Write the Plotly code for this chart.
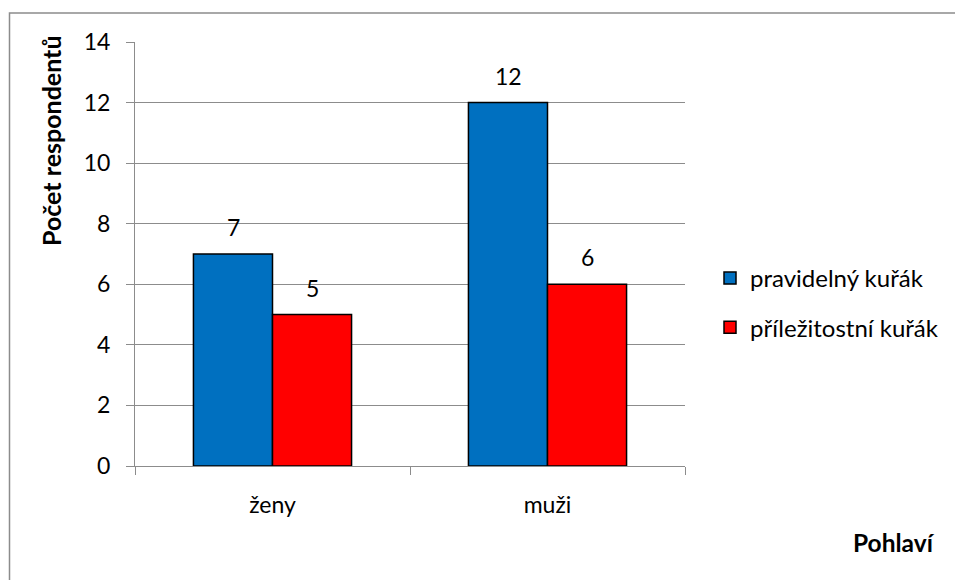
import plotly.graph_objects as go

categories = ["ženy", "muži"]
series_names = ["pravidelný kuřák", "příležitostní kuřák"]
regular = [7, 12]
occasional = [5, 6]
colors = ["#0070C0", "#FF0000"]
y_ticks = [0, 2, 4, 6, 8, 10, 12, 14]

FONT = "Lato, Open Sans, sans-serif"
FS = 23

fig = go.Figure()
series = [regular, occasional]
for i, (name, vals) in enumerate(zip(series_names, series)):
    fig.add_trace(go.Bar(
        x=categories, y=vals, name=name, legendgroup=name,
        marker=dict(color=colors[i], line=dict(color="black", width=1.5)),
        cliponaxis=False,
    ))

W, H = 955, 580
L, R, T, B = 135, 270, 42, 114
pw, ph = W - L - R, H - T - B

def px(x):
    return (x - L) / pw

def py(y):
    return (H - B - y) / ph

# data labels
offsets = [-39.5, 39.5]
for i, vals in enumerate(series):
    for c, v in zip(categories, vals):
        fig.add_annotation(x=c, y=v, text=str(v), showarrow=False,
                           xanchor="center", yanchor="middle",
                           xshift=offsets[i], yshift=27,
                           font=dict(size=FS, family=FONT, color="black"))

fig.update_layout(
    width=W, height=H,
    margin=dict(l=L, r=R, t=T, b=B, autoexpand=False),
    paper_bgcolor="white", plot_bgcolor="white",
    barmode="group", bargap=0.425, bargroupgap=0,
    font=dict(family=FONT, size=FS, color="black"),
    legend=dict(x=px(710), y=py(256), xanchor="left", yanchor="top",
                font=dict(size=24, family=FONT), tracegroupgap=15,
                traceorder="grouped", itemwidth=30),
    showlegend=True,
)
fig.update_xaxes(
    type="category", tickson="boundaries", ticks="outside", ticklen=8,
    tickcolor="#8c8c8c", showline=True, linecolor="#8c8c8c", linewidth=1,
    showgrid=False, tickfont=dict(size=FS, family=FONT),
    ticklabelstandoff=18,
)
fig.update_yaxes(
    range=[0, 14], tickvals=y_ticks, ticks="outside", ticklen=8,
    tickcolor="#8c8c8c", showline=True, linecolor="#8c8c8c", linewidth=1,
    showgrid=True, gridcolor="#8c8c8c", gridwidth=1, zeroline=False,
    tickfont=dict(size=FS, family=FONT), ticklabelstandoff=11,
)
fig.add_annotation(text="<b>Počet respondentů</b>", textangle=-90,
                   x=px(51), y=py(141), xref="paper", yref="paper",
                   xanchor="center", yanchor="middle",
                   showarrow=False, font=dict(size=25, family=FONT))
fig.add_annotation(text="<b>Pohlaví</b>", x=px(894), y=py(542),
                   xref="paper", yref="paper", showarrow=False,
                   xanchor="center", yanchor="middle",
                   font=dict(size=24.5, family=FONT))
fig.add_shape(type="rect", xref="paper", yref="paper",
              x0=px(9.5), y0=py(13), x1=px(1200), y1=py(900),
              line=dict(color="#8c8c8c", width=1.5), layer="below")
fig.write_html("out.html")
